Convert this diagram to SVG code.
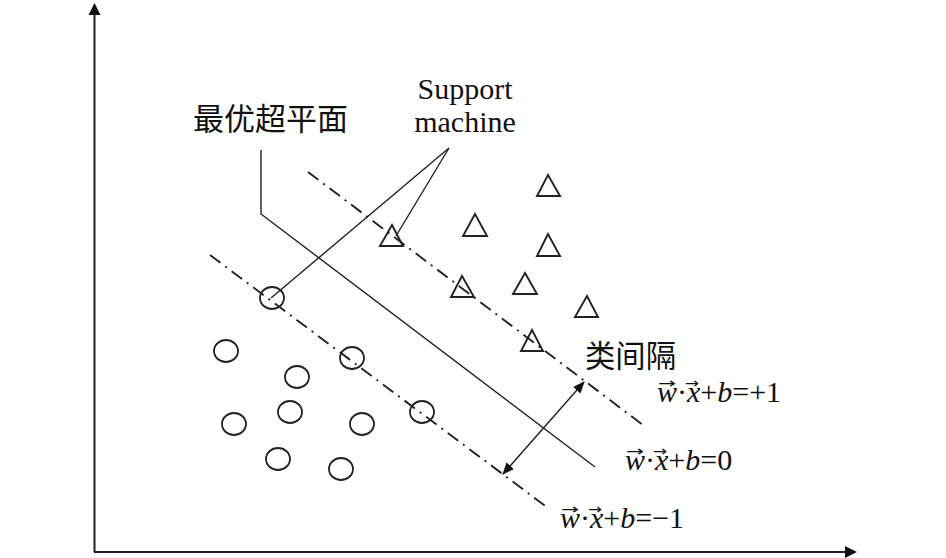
<svg xmlns="http://www.w3.org/2000/svg" width="946" height="558" viewBox="0 0 946 558">
<defs>
<style>
.ax{stroke:#222;stroke-width:2;fill:none}
.sl{stroke:#222;stroke-width:1.4;fill:none}
.dd{stroke:#222;stroke-width:1.9;fill:none;stroke-dasharray:13 6 2 6}
.c{fill:none;stroke:#222;stroke-width:1.8}
.t{fill:none;stroke:#222;stroke-width:1.9;stroke-linejoin:miter}
.cn{font-family:"Noto Sans CJK SC","Noto Sans",sans-serif;font-size:31px;fill:#111}
.en{font-family:"Liberation Serif","Times New Roman",serif;font-size:30px;fill:#111}
.eq{font-family:"Liberation Serif","Times New Roman",serif;font-size:30px;fill:#111}
.i{font-style:italic}
.va{font-family:"DejaVu Sans",sans-serif;font-size:14px;fill:#111}
</style>
<marker id="ah" viewBox="0 0 12 10" refX="11" refY="5" markerWidth="12" markerHeight="10" markerUnits="userSpaceOnUse" orient="auto-start-reverse">
<path d="M0,0 L12,5 L0,10 Z" fill="#111"/>
</marker>
<g id="eqw">
<text class="va" x="1" y="-14" textLength="18" lengthAdjust="spacingAndGlyphs">→</text>
<text class="va" x="28" y="-14" textLength="14" lengthAdjust="spacingAndGlyphs">→</text>
</g>
</defs>
<rect width="946" height="558" fill="#fff"/>

<g id="axes">
<line class="ax" x1="94.5" y1="552" x2="94.5" y2="12"/>
<polygon points="94.5,3 88.5,15 100.5,15" fill="#111"/>
<line class="ax" x1="94" y1="552" x2="846" y2="552"/>
<polygon points="857,552 845,546 845,558" fill="#111"/>
</g>

<g id="hyperplane">
<polyline class="sl" points="261,150 261,214 595,467"/>
</g>
<g id="margin-plus">
<line class="dd" x1="308" y1="172" x2="643" y2="425"/>
</g>
<g id="margin-minus">
<line class="dd" x1="210" y1="255" x2="548" y2="508"/>
</g>

<g id="circles">
<ellipse class="c" cx="272" cy="298" rx="12" ry="11"/>
<ellipse class="c" cx="226" cy="351" rx="12" ry="11"/>
<ellipse class="c" cx="352" cy="358" rx="12" ry="11"/>
<ellipse class="c" cx="297" cy="377" rx="12" ry="11"/>
<ellipse class="c" cx="290" cy="412" rx="12" ry="11"/>
<ellipse class="c" cx="234" cy="424" rx="12" ry="11"/>
<ellipse class="c" cx="362" cy="424" rx="12" ry="11"/>
<ellipse class="c" cx="422" cy="412" rx="12" ry="11"/>
<ellipse class="c" cx="278" cy="459" rx="12" ry="11"/>
<ellipse class="c" cx="341" cy="469" rx="12" ry="11"/>
</g>

<g id="triangles">
<polygon class="t" points="548,175 537,196 560,196"/>
<polygon class="t" points="475,214 463,236 487,236"/>
<polygon class="t" points="548,234 537,256 560,256"/>
<polygon class="t" points="392,225 380,246 403,246"/>
<polygon class="t" points="462,276 451,297 474,297"/>
<polygon class="t" points="525,273 513,294 537,294"/>
<polygon class="t" points="587,296 575,317 598,317"/>
<polygon class="t" points="532,330 521,351 543,351"/>
</g>

<g id="connectors">
<line class="sl" x1="449" y1="148" x2="271" y2="298"/>
<line class="sl" x1="449" y1="148" x2="396" y2="236"/>
<line class="sl" x1="584" y1="382" x2="503" y2="474" marker-start="url(#ah)" marker-end="url(#ah)"/>
</g>

<g id="label-hyperplane">
<text class="cn" x="193" y="130" textLength="155" lengthAdjust="spacingAndGlyphs">最优超平面</text>
</g>
<g id="label-support">
<text class="en" x="465" y="99" text-anchor="middle">Support</text>
<text class="en" x="465" y="132" text-anchor="middle">machine</text>
</g>
<g id="label-margin">
<text class="cn" x="585" y="367" textLength="91" lengthAdjust="spacingAndGlyphs">类间隔</text>
</g>

<g id="eq-plus" transform="translate(657,402)">
<text class="eq" x="0" y="0"><tspan class="i">w</tspan>·<tspan class="i">x</tspan>+<tspan class="i">b</tspan>=+1</text>
<use href="#eqw"/>
</g>
<g id="eq-zero" transform="translate(625,470)">
<text class="eq" x="0" y="0"><tspan class="i">w</tspan>·<tspan class="i">x</tspan>+<tspan class="i">b</tspan>=0</text>
<use href="#eqw"/>
</g>
<g id="eq-minus" transform="translate(560,528)">
<text class="eq" x="0" y="0"><tspan class="i">w</tspan>·<tspan class="i">x</tspan>+<tspan class="i">b</tspan>=−1</text>
<use href="#eqw"/>
</g>
</svg>
